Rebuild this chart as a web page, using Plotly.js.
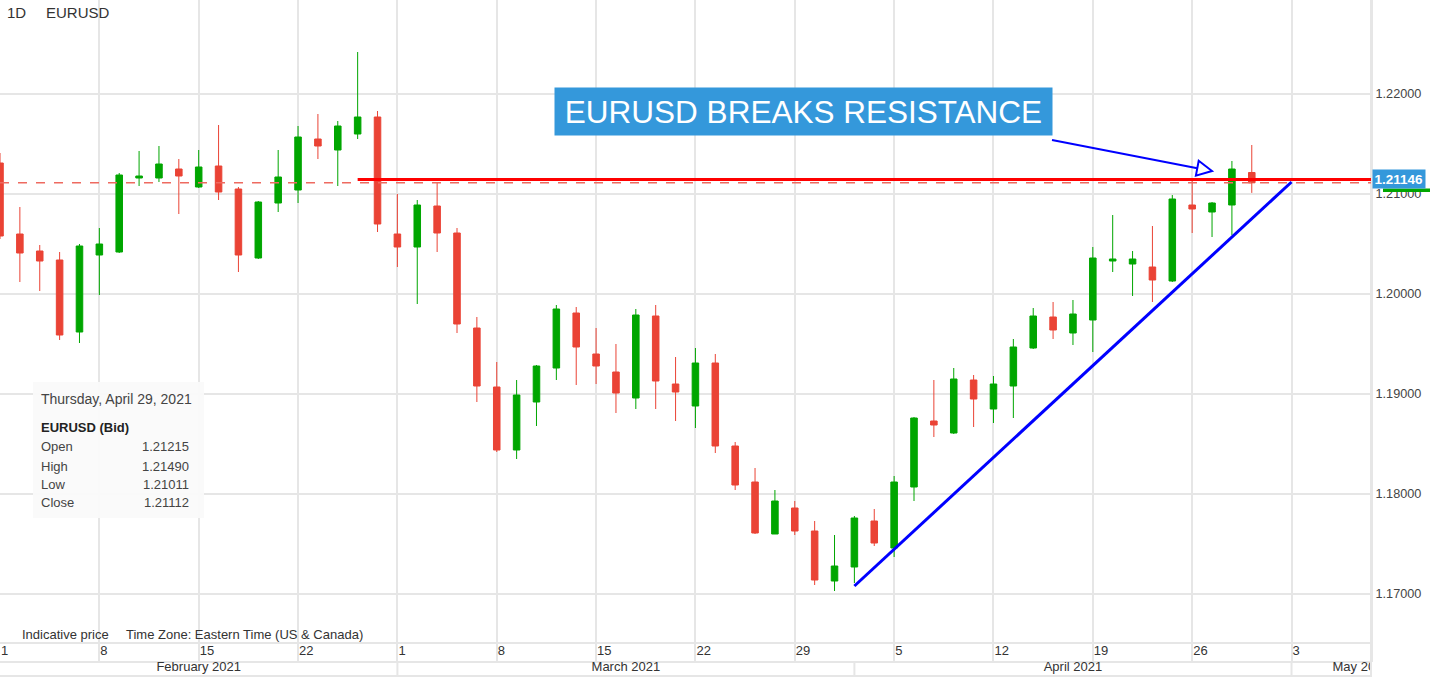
<!DOCTYPE html>
<html>
<head>
<meta charset="utf-8">
<script src="https://cdn.plot.ly/plotly-3.0.1.min.js"></script>
<style>
html,body{margin:0;padding:0;background:#fff;overflow:hidden}
#chart{width:1430px;height:677px}
</style>
</head>
<body>
<div id="chart"></div>
<script>
// ---------------- data ----------------
const dates = [
 '2021-02-01','2021-02-02','2021-02-03','2021-02-04','2021-02-05',
 '2021-02-08','2021-02-09','2021-02-10','2021-02-11','2021-02-12',
 '2021-02-15','2021-02-16','2021-02-17','2021-02-18','2021-02-19',
 '2021-02-22','2021-02-23','2021-02-24','2021-02-25','2021-02-26',
 '2021-03-01','2021-03-02','2021-03-03','2021-03-04','2021-03-05',
 '2021-03-08','2021-03-09','2021-03-10','2021-03-11','2021-03-12',
 '2021-03-15','2021-03-16','2021-03-17','2021-03-18','2021-03-19',
 '2021-03-22','2021-03-23','2021-03-24','2021-03-25','2021-03-26',
 '2021-03-29','2021-03-30','2021-03-31','2021-04-01','2021-04-02',
 '2021-04-05','2021-04-06','2021-04-07','2021-04-08','2021-04-09',
 '2021-04-12','2021-04-13','2021-04-14','2021-04-15','2021-04-16',
 '2021-04-19','2021-04-20','2021-04-21','2021-04-22','2021-04-23',
 '2021-04-26','2021-04-27','2021-04-28','2021-04-29'
];
const openPrices = [
 1.2131,1.2060,1.2043,1.2034,1.1962,
 1.2039,1.2042,1.2116,1.2116,1.2125,
 1.2107,1.2128,1.2105,1.2036,1.2091,
 1.2104,1.2155,1.2144,1.2160,1.2177,
 1.2060,1.2047,1.2088,1.2061,1.1966,
 1.1907,1.1844,1.1892,1.1926,1.1981,
 1.1940,1.1922,1.1896,1.1978,1.1910,
 1.1888,1.1931,1.1848,1.1812,1.1760,
 1.1786,1.1763,1.1713,1.1727,1.1773,
 1.1746,1.1807,1.1873,1.1861,1.1914,
 1.1885,1.1908,1.1946,1.1977,1.1961,
 1.1974,1.2033,1.2030,1.2027,1.2013,
 1.2089,1.2082,1.2089,1.21215
];
const highPrices = [
 1.2141,1.2087,1.2049,1.2042,1.2050,
 1.2066,1.2121,1.2143,1.2148,1.2135,
 1.2144,1.2169,1.2107,1.2093,1.2144,
 1.2168,1.2180,1.2173,1.2242,1.2183,
 1.2100,1.2094,1.2112,1.2066,1.1977,
 1.1932,1.1914,1.1929,1.1989,1.1987,
 1.1966,1.1950,1.1985,1.1989,1.1937,
 1.1946,1.1940,1.1852,1.1826,1.1804,
 1.1793,1.1773,1.1759,1.1778,1.1785,
 1.1818,1.1877,1.1914,1.1926,1.1919,
 1.1918,1.1955,1.1986,1.1992,1.1994,
 1.2047,1.2079,1.2043,1.2068,1.2099,
 1.2115,1.2092,1.2133,1.21490
];
const lowPrices = [
 1.2055,1.2012,1.2003,1.1954,1.1951,
 1.1999,1.2041,1.2108,1.2112,1.2080,
 1.2106,1.2094,1.2022,1.2035,1.2082,
 1.2091,1.2135,1.2108,1.2155,1.2062,
 1.2027,1.1990,1.2042,1.1961,1.1892,
 1.1842,1.1835,1.1868,1.1914,1.1909,
 1.1910,1.1881,1.1885,1.1885,1.1873,
 1.1866,1.1841,1.1804,1.1760,1.1760,
 1.1759,1.1709,1.1703,1.1711,1.1748,
 1.1737,1.1793,1.1857,1.1860,1.1867,
 1.1871,1.1876,1.1945,1.1955,1.1949,
 1.1942,1.2022,1.1998,1.1992,1.2012,
 1.2061,1.2057,1.2059,1.21011
];
const closePrices = [
 1.2058,1.2041,1.2033,1.1959,1.2048,
 1.2050,1.2119,1.2118,1.2130,1.2118,
 1.2127,1.2102,1.2039,1.2092,1.2117,
 1.2157,1.2148,1.2168,1.2177,1.2070,
 1.2047,1.2089,1.2061,1.1970,1.1908,
 1.1844,1.1899,1.1928,1.1985,1.1947,
 1.1928,1.1901,1.1979,1.1913,1.1902,
 1.1931,1.1848,1.1809,1.1761,1.1793,
 1.1763,1.1714,1.1728,1.1776,1.1751,
 1.1812,1.1876,1.1869,1.1915,1.1895,
 1.1910,1.1947,1.1978,1.1964,1.1980,
 1.2036,1.2035,1.2035,1.2014,1.2095,
 1.2085,1.2091,1.2125,1.21112
];

const weekTicks = ['2021-02-01','2021-02-08','2021-02-15','2021-02-22','2021-03-01','2021-03-08',
 '2021-03-15','2021-03-22','2021-03-29','2021-04-05','2021-04-12','2021-04-19','2021-04-26','2021-05-03'];
const weekTickLabels = ['1','8','15','22','1','8','15','22','29','5','12','19','26','3'];
const monthLabels = ['February 2021','March 2021','April 2021','May 2021'];
const monthLabelDates = ['2021-02-15 12:00','2021-03-17 00:00','2021-04-16 12:00','2021-05-07 00:00'];
const monthStarts = ['2021-03-01','2021-04-01','2021-05-03'];
const priceTicks = [1.17,1.18,1.19,1.20,1.21,1.22];

const resistanceLevel = 1.21146;
const resistanceStart = '2021-02-25';
const lastClose = 1.21112;
const trendStartDate = '2021-04-01', trendStartPrice = 1.1708;
const trendEndDate = '2021-05-03', trendEndPrice = 1.2112;

const infoDate = 'Thursday, April 29, 2021';
const infoTitle = 'EURUSD (Bid)';
const infoRows = ['Open','High','Low','Close'];
const infoValues = ['1.21215','1.21490','1.21011','1.21112'];

const xStart = '2021-02-01', xEnd = '2021-05-07';
const yMin = 1.1633, yMax = 1.2294;

// ---------------- styling ----------------
const FONT = 'Arial, "Liberation Sans", sans-serif';
const GREEN = '#00a600', RED = '#ea4335', BLUE_BOX = '#3498db';
const GRID = '#e6e6e6';
const PW = 1371, PH = 661;
const px = v => v / PW, py = v => 1 - v / PH;
const slot = d => d + ' 12:00';   // candle centred in its trading-day slot
const breaks = [{bounds:['sat','mon']}];

const candles = {
  type:'candlestick',
  x: dates.map(slot), open: openPrices, high: highPrices, low: lowPrices, close: closePrices,
  increasing:{line:{color:GREEN, width:1}, fillcolor:GREEN},
  decreasing:{line:{color:RED, width:1}, fillcolor:RED},
  whiskerwidth:0, hoverinfo:'skip', showlegend:false
};
const dummy = {type:'scatter', x:[], y:[], xaxis:'x2', yaxis:'y', hoverinfo:'skip', showlegend:false};

const shapes = [
  {type:'line', xref:'paper', yref:'paper', x0:0, x1:1, y0:py(643), y1:py(643), line:{color:GRID, width:2}, layer:'below'},
  {type:'line', xref:'paper', yref:'paper', x0:0, x1:1, y0:py(676), y1:py(676), line:{color:GRID, width:2}},
  {type:'rect', xref:'paper', yref:'paper', x0:px(1372), x1:px(1430), y0:py(677), y1:py(662), fillcolor:'#ffffff', line:{width:0}, layer:'above'},
  {type:'line', xref:'paper', yref:'paper', x0:1, x1:1, y0:py(677), y1:1, line:{color:GRID, width:2}, layer:'above'},
  {type:'line', xref:'paper', yref:'y', x0:0, x1:1, y0:lastClose, y1:lastClose, line:{color:'#ee6a60', width:1.6, dash:'dash'}, layer:'above'},
  {type:'line', xref:'x', yref:'y', x0:slot(resistanceStart), x1:slot(xEnd), y0:resistanceLevel, y1:resistanceLevel, line:{color:'#ff0000', width:3}, layer:'above'},
  {type:'line', xref:'x', yref:'y', x0:slot(trendStartDate), x1:slot(trendEndDate), y0:trendStartPrice, y1:trendEndPrice, line:{color:'#0000ff', width:3}, layer:'above'},
  {type:'line', xref:'paper', yref:'paper', x0:px(1052), y0:py(140), x1:px(1197.3), y1:py(168.2), line:{color:'#0000ff', width:2}, layer:'above'},
  {type:'path', xref:'paper', yref:'paper',
   path:`M ${px(1198.7)} ${py(160.8)} L ${px(1212)} ${py(171)} L ${px(1195.9)} ${py(175.6)} Z`,
   line:{color:'#0000ff', width:2}, fillcolor:'rgba(0,0,0,0)', layer:'above'},
  {type:'rect', xref:'paper', yref:'paper', x0:px(33), x1:px(204), y0:py(518), y1:py(382), fillcolor:'rgba(250,250,250,0.96)', line:{width:0}, layer:'above'},
  {type:'rect', xref:'paper', yref:'paper', x0:px(1383), x1:px(1430), y0:py(192), y1:py(188.5), fillcolor:GREEN, line:{width:0}, layer:'above'}
];
monthStarts.forEach(d => shapes.push(
  {type:'line', xref:'x', yref:'paper', x0:slot(d), x1:slot(d), y0:py(661), y1:py(676), line:{color:GRID, width:2}}
));

const annotations = [
  {xref:'paper', yref:'paper', x:px(5), y:py(13), xanchor:'left', yanchor:'middle', showarrow:false, text:'1D', font:{size:15, color:'#333'}},
  {xref:'paper', yref:'paper', x:px(44), y:py(13), xanchor:'left', yanchor:'middle', showarrow:false, text:'EURUSD', font:{size:15, color:'#333'}},
  {xref:'paper', yref:'paper', x:px(20), y:py(634), xanchor:'left', yanchor:'middle', showarrow:false, text:'Indicative price', font:{size:13, color:'#333'}},
  {xref:'paper', yref:'paper', x:px(124), y:py(634), xanchor:'left', yanchor:'middle', showarrow:false, text:'Time Zone: Eastern Time (US & Canada)', font:{size:13, color:'#333'}},
  {xref:'paper', yref:'paper', x:px(39), y:py(399), xanchor:'left', yanchor:'middle', showarrow:false, text:infoDate, font:{size:14, color:'#444'}},
  {xref:'paper', yref:'paper', x:px(39), y:py(427), xanchor:'left', yanchor:'middle', showarrow:false, text:'<b>'+infoTitle+'</b>', font:{size:13, color:'#222'}},
  {xref:'paper', yref:'paper', x:px(803.5), y:py(111.7), xanchor:'center', yanchor:'middle', showarrow:false,
   text:'EURUSD BREAKS RESISTANCE', font:{size:31.5, color:'#ffffff'}, bgcolor:BLUE_BOX, width:491, height:41, borderpad:3},
  {xref:'paper', yref:'y', x:1, y:resistanceLevel, xanchor:'left', yanchor:'middle', xshift:1, showarrow:false,
   text:'<b>1.21146</b>', font:{size:13.5, color:'#ffffff'}, bgcolor:BLUE_BOX, borderpad:1.5}
];
const rowY = [447, 466, 484, 502.5];
infoRows.forEach((r, i) => {
  annotations.push({xref:'paper', yref:'paper', x:px(39), y:py(rowY[i]), xanchor:'left', yanchor:'middle', showarrow:false, text:r, font:{size:13, color:'#444'}});
  annotations.push({xref:'paper', yref:'paper', x:px(191), y:py(rowY[i]), xanchor:'right', yanchor:'middle', showarrow:false, text:infoValues[i], font:{size:13, color:'#444'}});
});

const layout = {
  width:1430, height:677,
  margin:{l:0, r:59, t:0, b:16, pad:0},
  paper_bgcolor:'#ffffff', plot_bgcolor:'#ffffff',
  showlegend:false,
  font:{family:FONT, size:13, color:'#333'},
  boxgap:0.53,
  xaxis:{
    type:'date', range:[slot(xStart), slot(xEnd)], rangebreaks:breaks,
    rangeslider:{visible:false},
    tickmode:'array', tickvals:weekTicks.map(slot), ticktext:weekTickLabels,
    ticks:'', ticklabelposition:'inside right',
    showgrid:true, gridcolor:GRID, gridwidth:2,
    showline:true, linecolor:GRID, linewidth:2, zeroline:false,
    tickfont:{size:13, color:'#333'}, fixedrange:true
  },
  xaxis2:{
    type:'date', overlaying:'x', anchor:'free', position:4/661, side:'bottom',
    range:[slot(xStart), slot(xEnd)], rangebreaks:breaks,
    tickmode:'array', tickvals:monthLabelDates, ticktext:monthLabels,
    ticks:'', showgrid:false, showline:false, zeroline:false,
    tickfont:{size:13, color:'#333'}, fixedrange:true
  },
  yaxis:{
    side:'right', range:[yMin, yMax], tickmode:'array', tickvals:priceTicks, tickformat:'.5f',
    ticks:'', showgrid:true, gridcolor:GRID, gridwidth:2,
    showline:true, linecolor:GRID, linewidth:2, zeroline:false,
    tickfont:{size:12.7, color:'#444'}, fixedrange:true
  },
  shapes:shapes,
  annotations:annotations
};

Plotly.newPlot('chart', [candles, dummy], layout, {displayModeBar:false, staticPlot:true});
</script>
</body>
</html>
